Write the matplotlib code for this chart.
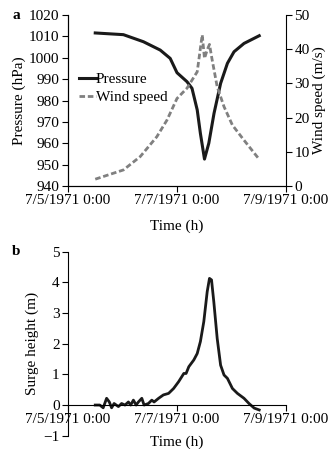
import numpy as np
import matplotlib
matplotlib.use('Agg')
import matplotlib.pyplot as plt

plt.rcParams['font.family'] = ['Liberation Serif', 'DejaVu Serif']
plt.rcParams['font.size'] = 11

# Hours since 7/5/1971 0:00
t_press = [12, 24.4, 33.2, 40.6, 45, 48, 52.4, 54.6, 56.9, 58.3, 60.1, 62, 64.3,
           67.2, 70.2, 73.1, 77.5, 84.2]
pressure = [1011.6, 1010.8, 1007.5, 1003.6, 999.7, 993, 988.8, 985.7, 975.6,
            964.6, 952.6, 960, 974, 988, 997.4, 1002.8, 1006.7, 1010.3]

t_wind = [12, 24.4, 31.8, 39.1, 43.6, 48, 52.4, 56.9, 58, 59.1, 60.1, 61.3, 62.3,
          63.5, 65.7, 68.7, 72.4, 77.5, 84.2]
wind = [2.0, 4.7, 8.6, 14.4, 19.3, 25.6, 28.6, 33.4, 38.8, 44.2, 37.3, 39.8, 41.4,
        36.8, 29, 23.2, 17.8, 13.4, 7.8]

t_surge = [12, 14, 15.5, 17, 18.2, 19.2, 20.3, 22.2, 23.6, 25.1, 26.6, 27.6, 28.8,
           30, 31, 32.5, 33.5, 35.4, 36.9, 37.9, 39.9, 42, 44.3, 46.5, 48.7, 51,
           52, 53.2, 55.4, 56.9, 58.3, 59.8, 61.3, 62.3, 63.2, 64.2, 65.7, 67.2,
           68.7, 70.2, 72.4, 74.6, 77.5, 79.7, 82, 84.2]
surge = [0, 0, -0.09, 0.22, 0.1, -0.09, 0.05, -0.05, 0.05, 0, 0.1, 0, 0.16, 0,
         0.1, 0.22, 0, 0.05, 0.16, 0.1, 0.22, 0.33, 0.38, 0.54, 0.76, 1.03, 1.03,
         1.25, 1.47, 1.68, 2.07, 2.72, 3.7, 4.13, 4.08, 3.37, 2.17, 1.3, 0.98,
         0.87, 0.54, 0.38, 0.22, 0.05, -0.1, -0.16]

xticks = [0, 48, 96]
xticklabels = ['7/5/1971 0:00', '7/7/1971 0:00', '7/9/1971 0:00']

fig = plt.figure(figsize=(3.28, 4.49), dpi=100)

# --- panel a ---
ax = fig.add_axes([0.2073, 0.5857, 0.6647, 0.3809])
ax2 = ax.twinx()
l1, = ax.plot(t_press, pressure, color='#1a1a1a', lw=2.2, label='Pressure')
l2, = ax2.plot(t_wind, wind, color='#808080', lw=2, ls=(0, (2, 1)),
               label='Wind speed')
ax.set_xlim(0, 96)
ax.set_ylim(940, 1020)
ax.set_yticks(np.arange(940, 1021, 10))
ax2.set_ylim(0, 50)
ax2.set_yticks(np.arange(0, 51, 10))
ax.set_xticks(xticks)
ax.set_xticklabels(xticklabels)
for a in (ax, ax2):
    a.spines['top'].set_visible(False)
    a.tick_params(direction='out', length=4, width=0.8, pad=2)
ax.spines['right'].set_visible(False)
ax.set_ylabel('Pressure (hPa)', labelpad=2)
ax2.set_ylabel('Wind speed (m/s)', labelpad=2)
ax.set_xlabel('Time (h)', labelpad=9)
ax.legend([l1, l2], ['Pressure', 'Wind speed'], frameon=False,
          loc='upper left', bbox_to_anchor=(0.05, 0.665), handlelength=1.1,
          handletextpad=0.0, labelspacing=0.3, borderaxespad=0,
          borderpad=0)
fig.text(0.05, 0.966, 'a', fontweight='bold', ha='center', va='center')

# --- panel b ---
bx = fig.add_axes([0.2073, 0.0296, 0.6647, 0.4098])
bx.plot(t_surge, surge, color='#1a1a1a', lw=2)
bx.set_xlim(0, 96)
bx.set_ylim(-1, 5)
bx.set_yticks(np.arange(-1, 6, 1))
bx.set_xticks(xticks)
bx.set_xticklabels(xticklabels)
bx.spines['top'].set_visible(False)
bx.spines['right'].set_visible(False)
bx.spines['bottom'].set_position(('data', 0))
bx.tick_params(direction='out', length=4, width=0.8, pad=2)
bx.set_ylabel('Surge height (m)', labelpad=3)
bx.text(0.5, -0.035, 'Time (h)', transform=bx.transAxes, ha='center',
        va='center')
fig.text(0.05, 0.44, 'b', fontweight='bold', ha='center', va='center')

fig.savefig('out.png', dpi=100)
